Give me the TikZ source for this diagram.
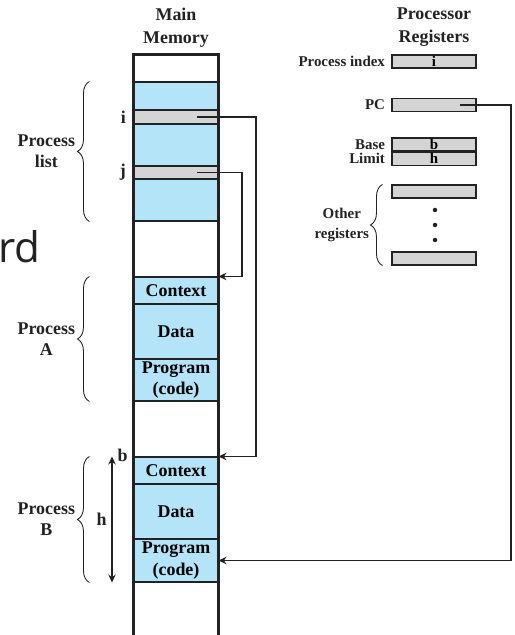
\documentclass[tikz,border=0pt]{standalone}
\usepackage{fontspec}
\setmainfont{Liberation Serif}
\newfontfamily\slidefont{Open Sans}
\usetikzlibrary{arrows.meta, positioning, decorations.pathreplacing}
\definecolor{cmem}{HTML}{B3E4F7}
\definecolor{creg}{HTML}{D4D4D4}
\definecolor{cline}{HTML}{222222}
\tikzset{
  every picture/.style={font=\bfseries\fontsize{10.2}{12}\selectfont, line width=0.6pt},
  cell/.style={draw=cline, fill=#1, minimum width=16.8mm, inner sep=0pt, align=center},
  cell/.default=cmem,
  reg/.style={draw=cline, fill=creg, minimum width=16.8mm, minimum height=2.6mm, inner sep=0pt, font=\bfseries\fontsize{8.5}{9}\selectfont},
  wall/.style={draw=cline, line width=1.4pt},
  link/.style={-{Stealth[length=1.6mm, width=1.5mm]}, draw=cline, line width=0.6pt},
  span/.style={{Stealth[length=1.6mm, width=1.5mm]}-{Stealth[length=1.6mm, width=1.5mm]}, draw=cline, line width=0.6pt},
  brace/.style={decorate, decoration={brace, amplitude=2.4mm}, draw=cline, line width=0.5pt},
  lbl/.style={inner sep=0pt, align=center, text=cline},
  head/.style={lbl, font=\bfseries\fontsize{10.2}{13}\selectfont},
  small/.style={font=\bfseries\fontsize{8.5}{11}\selectfont},
}

\begin{document}
\begin{tikzpicture}[x=0.2mm, y=-0.2mm]
  \useasboundingbox (0,0) rectangle (515,635);
  % main memory column
  \foreach \nm/\ya/\yb/\fc/\txt in {m0/55/82/white/{}, pl1/82/110/cmem/{}, pi/110/124/creg/{}, pl2/124/166/cmem/{},
      pj/166/179/creg/{}, pl3/179/221/cmem/{}, w1/221/277/white/{}, ctxA/277/304/cmem/Context, datA/304/359/cmem/Data,
      prgA/359/401/cmem/{Program\\(code)}, w2/401/457/white/{}, ctxB/457/484/cmem/Context, datB/484/539/cmem/Data,
      prgB/539/582/cmem/{Program\\(code)}, w3/582/650/white/{}} {
    \node[cell=\fc, minimum height={(\yb-\ya)*0.2mm}] (\nm) at (176,{(\ya+\yb)/2}) {\txt};
  }
  \draw[wall] (w3.south west) -- (m0.north west) -- (m0.north east) -- (w3.south east);
  \node[head, above=1.4mm of m0] (hmem) {Main\\Memory};
  \node[lbl, left=1.4mm of pi] (li) {i};
  \node[lbl, left=1.4mm of pj] (lj) {j};
  % braces on the left
  \draw[brace] ([xshift=-8.8mm]pl3.south west) -- node[lbl, left=2.8mm] (lpl) {Process\\list} ([xshift=-8.8mm]pl1.north west);
  \draw[brace] ([xshift=-8.8mm]prgA.south west) -- node[lbl, left=2.8mm] (lpa) {Process\\A} ([xshift=-8.8mm]ctxA.north west);
  \draw[brace] ([xshift=-8.8mm]prgB.south west) -- node[lbl, left=2.8mm] (lpb) {Process\\B} ([xshift=-8.8mm]ctxB.north west);
  % base and limit of process B
  \coordinate (hx) at (112,0);
  \draw[span] (hx |- ctxB.north) -- node[lbl, left=1mm] (lh) {h} (hx |- prgB.south);
  \node[lbl] (lb) at (122.5,455) {b};
  % processor registers
  \node[reg] (rix) at (434,61.5) {i};
  \node[reg] (rpc) at (434,105) {};
  \node[reg] (rbase) at (434,144.5) {b};
  \node[reg, below=0pt of rbase] (rlim) {h};
  \node[reg] (roa) at (434,191.5) {};
  \node[reg] (rob) at (434,258.5) {};
  \node[head] (hreg) at (hmem -| rix) {Processor\\Registers};
  \node[lbl, small, left=1.2mm of rix] (lix) {Process index};
  \node[lbl, small, left=1.2mm of rpc] (lpc) {PC};
  \node[lbl, small, left=1.2mm of rbase] (lbase) {Base};
  \node[lbl, small, left=1.2mm of rlim] (llim) {Limit};
  \foreach \y in {210,225,240} \fill[cline] (435,\y) circle[radius=0.45mm];
  \draw[brace] ([xshift=-1.8mm]rob.south west) -- node[lbl, small, left=2.6mm] (loth) {Other\\registers} ([xshift=-1.8mm]roa.north west);
  % pointers
  \draw[link] ([xshift=4.2mm]pi.center) -- ++(11.8mm,0) |- (ctxB.north east);
  \draw[link] ([xshift=4.2mm]pj.center) -- ++(9mm,0) |- (ctxA.north east);
  \draw[link] ([xshift=5.2mm]rpc.center) -- ++(10.2mm,0) |- (prgB.east);
  % slide text behind
  \node[inner sep=0pt, anchor=base west, font=\slidefont\mdseries\fontsize{24}{28}\selectfont, text=cline] (slide) at (-2,263) {rd};
\end{tikzpicture}
\end{document}
